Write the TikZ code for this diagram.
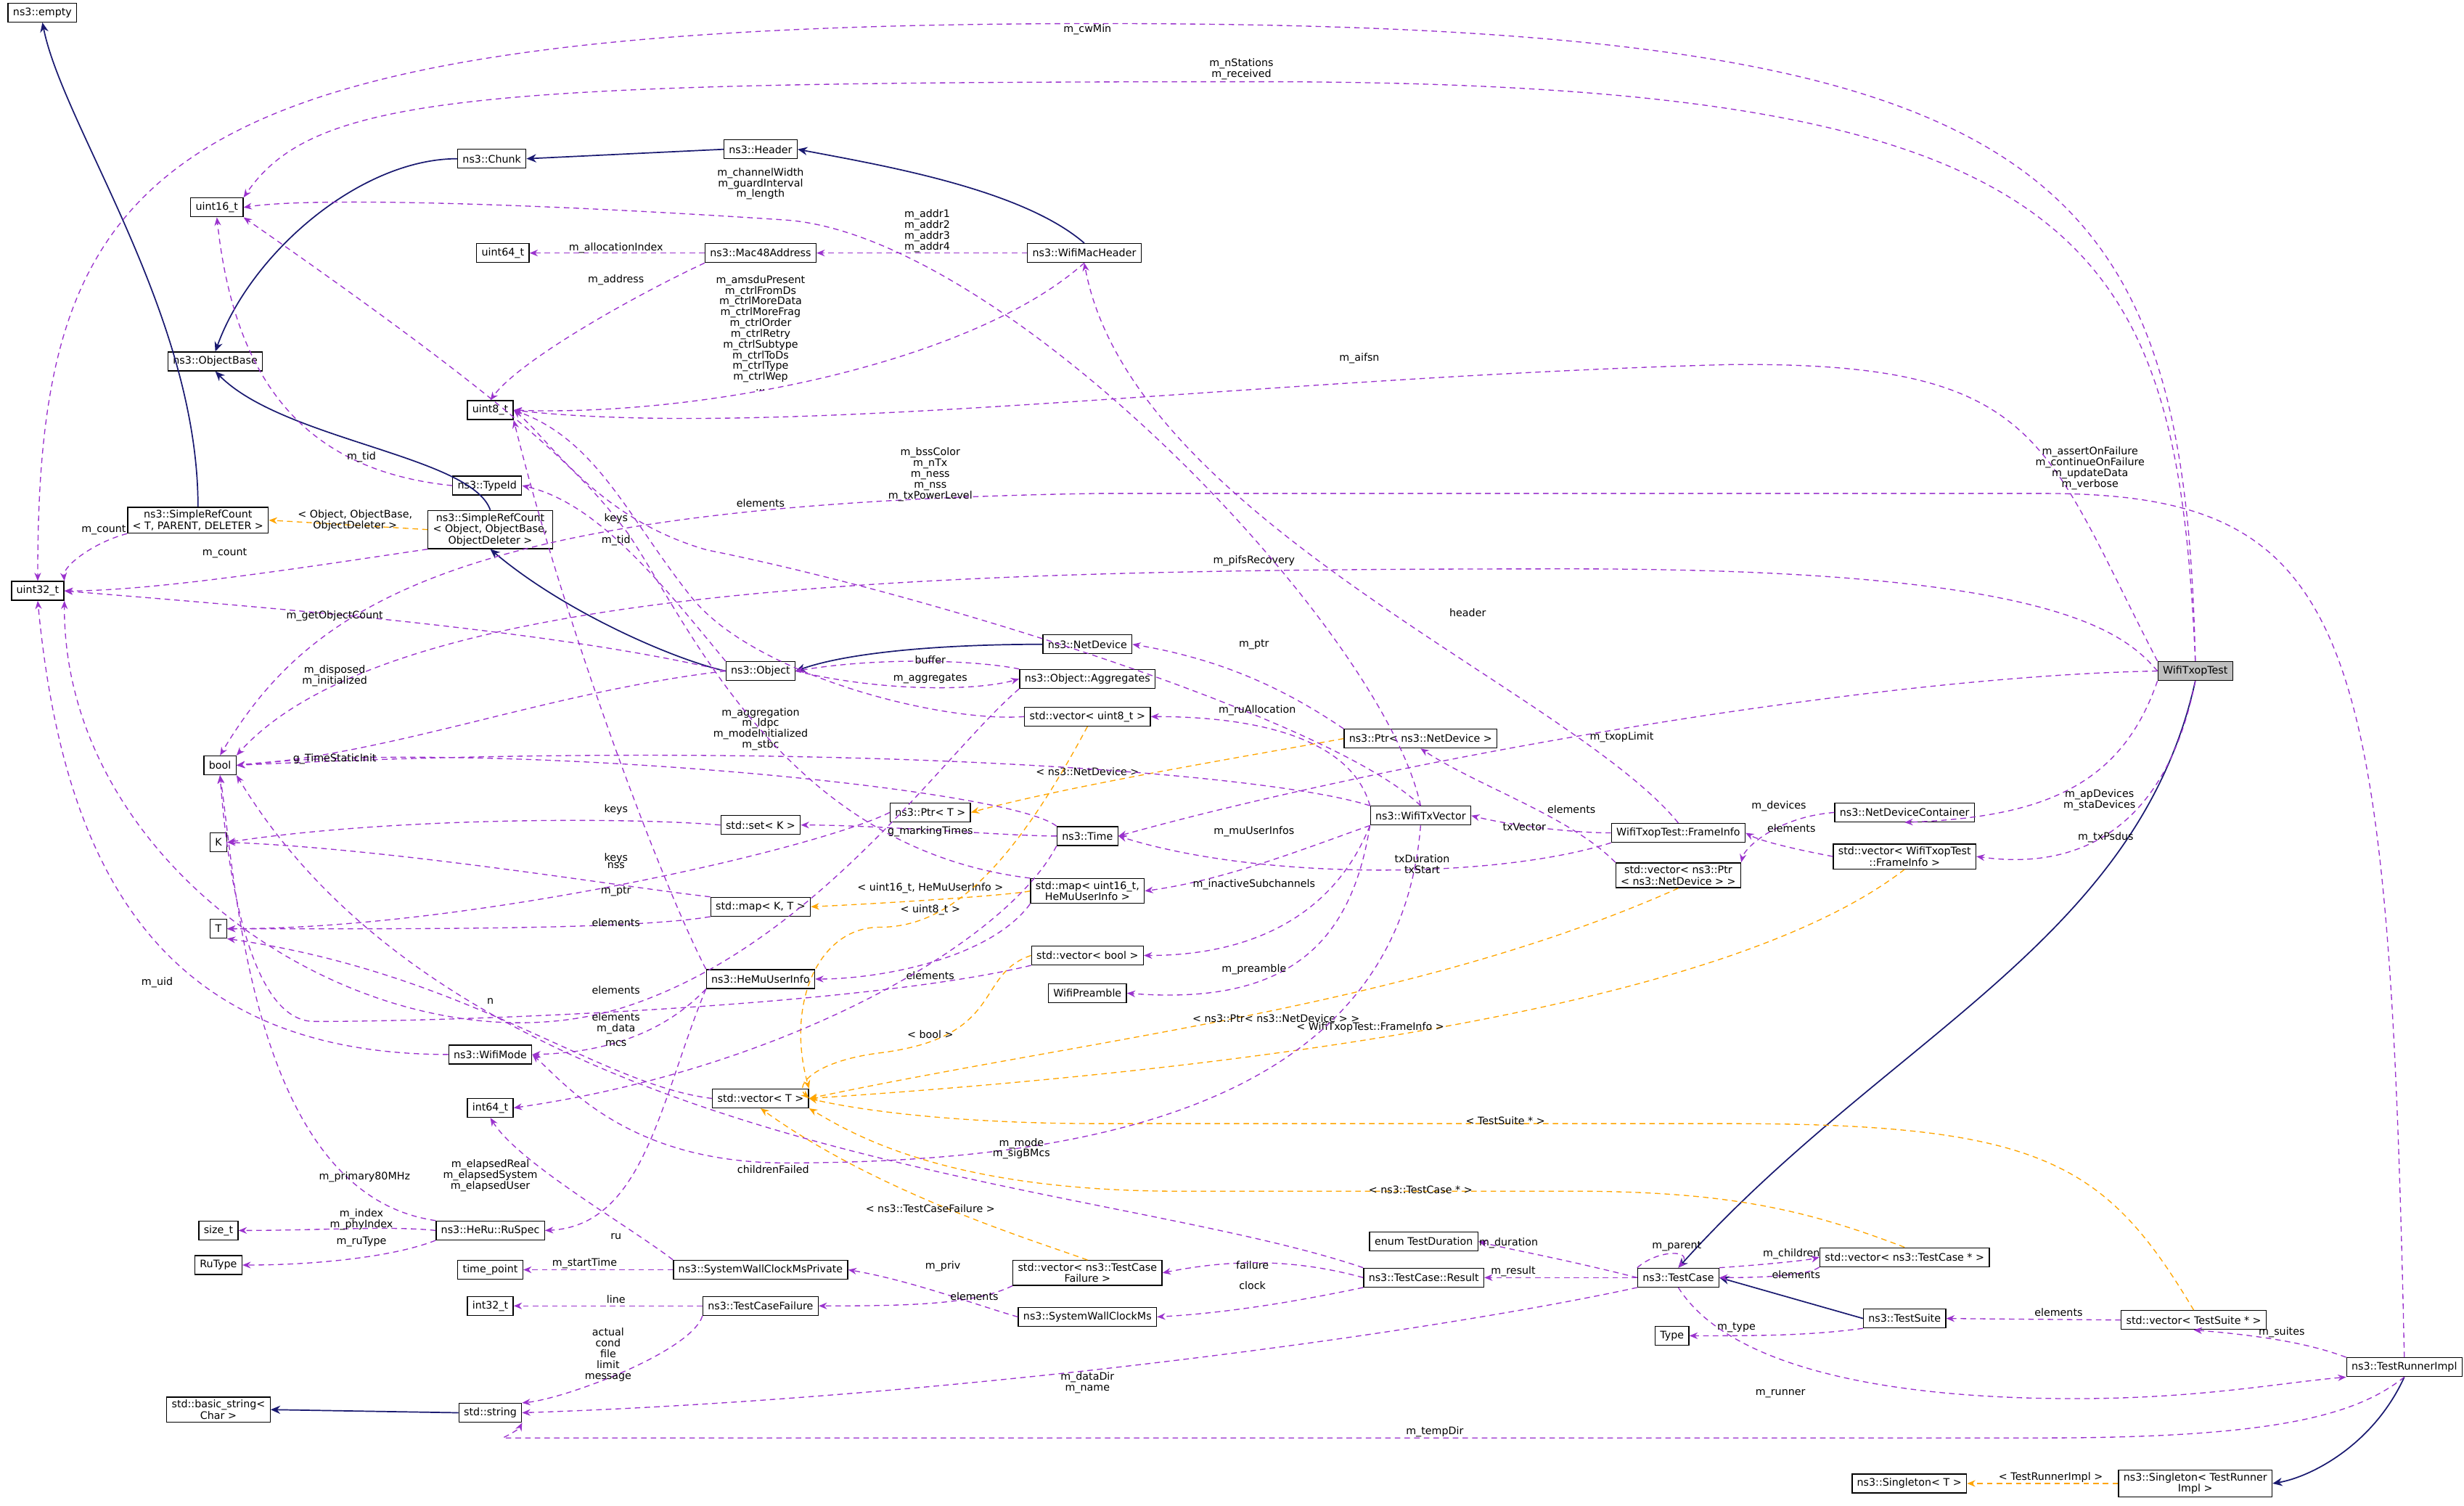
\documentclass[tikz,border=0pt]{standalone}
\usepackage{fontspec}
\setmainfont{DejaVu Sans}
\usetikzlibrary{arrows.meta}
\definecolor{usecol}{HTML}{9A32CD}
\definecolor{tplcol}{HTML}{FFA500}
\definecolor{inhcol}{HTML}{191970}
\tikzset{
  cls/.style={draw, fill=white, font=\fontsize{3.75}{4.1}\selectfont, inner xsep=1.8pt, inner ysep=1pt, minimum height=0.24cm, align=center, line width=0.35pt},
  lbl/.style={font=\fontsize{3.75}{3.9}\selectfont, align=center, inner sep=0.5pt},
  use/.style={draw=usecol, dashed, dash pattern=on 2pt off 1.5pt, line width=0.35pt, -{Stealth[length=3pt,width=2.4pt]}},
  tpl/.style={draw=tplcol, dashed, dash pattern=on 2pt off 1.5pt, line width=0.35pt, -{Stealth[length=3pt,width=2.4pt]}},
  inh/.style={draw=inhcol, line width=0.45pt, -{Stealth[length=3.5pt,width=3pt]}}
}
\begin{document}
\begin{tikzpicture}[x=0.02cm, y=-0.02cm]
\useasboundingbox (0,0) rectangle (1568,958);
% classes, left column
\node[cls] (empty) at (27,8) {ns3::empty};
\node[cls] (uintsixteen) at (138,132) {uint16\_t};
\node[cls] (objbase) at (137,230) {ns3::ObjectBase};
\node[cls] (srct) at (126,331) {ns3::SimpleRefCount\\< T, PARENT, DELETER >};
\node[cls] (uintthirtytwo) at (24,376) {uint32\_t};
\node[cls] (bool) at (140,487) {bool};
\node[cls] (K) at (139,536) {K};
\node[cls] (T) at (139,591) {T};
\node[cls] (sizet) at (139,783) {size\_t};
\node[cls] (rutype) at (139,805) {RuType};
\node[cls] (basicstr) at (139,897) {std::basic\_string<\\Char >};
% second column
\node[cls] (chunk) at (313,101) {ns3::Chunk};
\node[cls] (uintsixtyfour) at (320,161) {uint64\_t};
\node[cls] (uinteight) at (312,261) {uint8\_t};
\node[cls] (typeid) at (310,309) {ns3::TypeId};
\node[cls] (srcobj) at (312,337) {ns3::SimpleRefCount\\< Object, ObjectBase,\\ ObjectDeleter >};
\node[cls] (wifimode) at (312,671) {ns3::WifiMode};
\node[cls] (intsixtyfour) at (312,705) {int64\_t};
\node[cls] (ruspec) at (312,783) {ns3::HeRu::RuSpec};
\node[cls] (timepoint) at (312,808) {time\_point};
\node[cls] (intthirtytwo) at (312,831) {int32\_t};
\node[cls] (string) at (312,899) {std::string};
% third column
\node[cls] (header) at (484,95) {ns3::Header};
\node[cls] (macaddr) at (484,161) {ns3::Mac48Address};
\node[cls] (object) at (484,427) {ns3::Object};
\node[cls] (setk) at (484,525) {std::set< K >};
\node[cls] (mapkt) at (484,577) {std::map< K, T >};
\node[cls] (hemu) at (484,623) {ns3::HeMuUserInfo};
\node[cls] (vect) at (484,699) {std::vector< T >};
\node[cls] (swcpriv) at (484,808) {ns3::SystemWallClockMsPrivate};
\node[cls] (failure) at (484,831) {ns3::TestCaseFailure};
\node[cls] (ptrt) at (592,517) {ns3::Ptr< T >};
% fourth column
\node[cls] (machdr) at (690,161) {ns3::WifiMacHeader};
\node[cls] (netdev) at (692,410) {ns3::NetDevice};
\node[cls] (aggr) at (692,432) {ns3::Object::Aggregates};
\node[cls] (vecuint8) at (692,456) {std::vector< uint8\_t >};
\node[cls] (time) at (692,532) {ns3::Time};
\node[cls] (mapmu) at (692,567) {std::map< uint16\_t,\\HeMuUserInfo >};
\node[cls] (vecbool) at (692,608) {std::vector< bool >};
\node[cls] (preamble) at (692,632) {WifiPreamble};
\node[cls] (vecfail) at (692,810) {std::vector< ns3::TestCase\\Failure >};
\node[cls] (swc) at (692,838) {ns3::SystemWallClockMs};
% fifth column
\node[cls] (ptrnetdev) at (904,470) {ns3::Ptr< ns3::NetDevice >};
\node[cls] (txvector) at (904,519) {ns3::WifiTxVector};
\node[cls] (testdur) at (906,790) {enum TestDuration};
\node[cls] (result) at (906,813) {ns3::TestCase::Result};
\node[cls] (frameinfo) at (1068,530) {WifiTxopTest::FrameInfo};
\node[cls] (vecptrnd) at (1068,557) {std::vector< ns3::Ptr\\< ns3::NetDevice > >};
\node[cls] (testcase) at (1068,813) {ns3::TestCase};
\node[cls] (type) at (1064,850) {Type};
% right columns
\node[cls] (devcont) at (1212,517) {ns3::NetDeviceContainer};
\node[cls] (vecframe) at (1212,545) {std::vector< WifiTxopTest\\::FrameInfo >};
\node[cls] (vectc) at (1212,800) {std::vector< ns3::TestCase * >};
\node[cls] (testsuite) at (1212,839) {ns3::TestSuite};
\node[cls] (singt) at (1215,944) {ns3::Singleton< T >};
\node[cls, fill=black!25] (txoptest) at (1397,427) {WifiTxopTest};
\node[cls] (vects) at (1396,840) {std::vector< TestSuite * >};
\node[cls] (singrunner) at (1397,944) {ns3::Singleton< TestRunner\\Impl >};
\node[cls] (runner) at (1530,870) {ns3::TestRunnerImpl};

% inheritance
\draw[inh] (srct.north) .. controls (126,200) and (40,80) .. (empty.south);
\draw[inh] (chunk.west) .. controls (230,101) and (160,160) .. (objbase.north);
\draw[inh] (header.west) -- (chunk.east);
\draw[inh] (machdr.north) .. controls (650,120) and (560,105) .. (header.east);
\draw[inh] (srcobj.north) .. controls (300,290) and (180,280) .. (objbase.south);
\draw[inh] (object.west) .. controls (430,420) and (360,390) .. (srcobj.south);
\draw[inh] (netdev.west) .. controls (600,410) and (540,415) .. (object.east);
\draw[inh] (txoptest.south) .. controls (1360,600) and (1200,660) .. (testcase.north);
\draw[inh] (testsuite.west) -- (testcase.east);
\draw[inh] (runner.south) .. controls (1510,920) and (1470,940) .. (singrunner.east);
\draw[inh] (string.west) -- (basicstr.east);

% templates
\draw[tpl] (srcobj.west) -- (srct.east);
\node[lbl] (l1) at (226,331) {< Object, ObjectBase,\\ObjectDeleter >};
\draw[tpl] (ptrnetdev.west) .. controls (800,480) and (680,500) .. (ptrt.east);
\node[lbl] (l2) at (692,491) {< ns3::NetDevice >};
\draw[tpl] (mapmu.west) .. controls (640,570) and (560,575) .. (mapkt.east);
\node[lbl] (l3) at (592,565) {< uint16\_t, HeMuUserInfo >};
\draw[tpl] (vecuint8.south) .. controls (640,560) and (600,590) .. (560,590) .. controls (520,590) and (500,640) .. (vect.north east);
\node[lbl] (l4) at (592,579) {< uint8\_t >};
\draw[tpl] (vecbool.west) .. controls (620,620) and (640,660) .. (560,670) .. controls (520,675) and (505,690) .. (vect.east);
\node[lbl] (l5) at (592,658) {< bool >};
\draw[tpl] (vecptrnd.south) .. controls (900,640) and (700,660) .. (vect.east);
\node[lbl] (l6) at (812,648) {< ns3::Ptr< ns3::NetDevice > >};
\draw[tpl] (vecframe.south) .. controls (1100,640) and (800,680) .. (vect.east);
\node[lbl] (l7) at (872,654) {< WifiTxopTest::FrameInfo >};
\draw[tpl] (vects.north) .. controls (1340,740) and (1300,715) .. (1100,715) -- (700,715) .. controls (600,715) and (540,705) .. (vect.east);
\node[lbl] (l8) at (958,713) {< TestSuite * >};
\draw[tpl] (vectc.north) .. controls (1150,770) and (1100,758) .. (1000,758) -- (750,758) .. controls (600,758) and (540,720) .. (vect.south east);
\node[lbl] (l9) at (904,757) {< ns3::TestCase * >};
\draw[tpl] (vecfail.north) .. controls (660,790) and (560,760) .. (vect.south);
\node[lbl] (l10) at (592,769) {< ns3::TestCaseFailure >};
\draw[tpl] (singrunner.west) -- (singt.east);
\node[lbl] (l11) at (1305,940) {< TestRunnerImpl >};

% usage, WifiTxopTest
\draw[use] (txoptest.north) .. controls (1390,100) and (1300,15) .. (700,15) .. controls (100,15) and (24,100) .. (uintthirtytwo.north);
\node[lbl] (l12) at (692,19) {m\_cwMin};
\draw[use] (txoptest.north) .. controls (1385,150) and (1330,52) .. (800,52) .. controls (300,52) and (200,60) .. (uintsixteen.north east);
\node[lbl] (l13) at (790,44) {m\_nStations\\m\_received};
\draw[use] (txoptest.north west) .. controls (1300,280) and (1300,230) .. (1100,232) .. controls (800,240) and (500,280) .. (uinteight.east);
\node[lbl] (l14) at (865,228) {m\_aifsn};
\draw[use] (txoptest.west) .. controls (1350,400) and (1300,362) .. (1000,362) .. controls (600,362) and (250,370) .. (bool.north east);
\node[lbl] (l15) at (798,357) {m\_pifsRecovery};
\draw[use] (txoptest.west) .. controls (1200,430) and (900,480) .. (time.east);
\node[lbl] (l16) at (1032,469) {m\_txopLimit};
\draw[use] (txoptest.south west) .. controls (1350,500) and (1300,520) .. (devcont.south);
\node[lbl] (l17) at (1336,509) {m\_apDevices\\m\_staDevices};
\draw[use] (txoptest.south) .. controls (1380,520) and (1330,555) .. (vecframe.east);
\node[lbl] (l18) at (1340,533) {m\_txPsdus};

% usage, test framework
\draw[use] (runner.north) .. controls (1520,400) and (1500,314) .. (1300,314) -- (700,314) .. controls (300,320) and (200,380) .. (bool.north);
\node[lbl] (l19) at (1330,298) {m\_assertOnFailure\\m\_continueOnFailure\\m\_updateData\\m\_verbose};
\draw[use] (runner.north west) .. controls (1470,855) and (1440,850) .. (vects.south);
\node[lbl] (l20) at (1452,848) {m\_suites};
\draw[use] (testcase.south) .. controls (1100,870) and (1200,890) .. (1320,890) .. controls (1400,890) and (1450,880) .. (runner.south west);
\node[lbl] (l21) at (1133,887) {m\_runner};
\draw[use] (runner.south) .. controls (1500,900) and (1450,915) .. (1300,915) -- (320,915) .. controls (320,915) and (330,910) .. (string.south east);
\node[lbl] (l22) at (913,911) {m\_tempDir};
\draw[use] (testcase.west) .. controls (990,800) and (960,795) .. (testdur.east);
\node[lbl] (l23) at (960,791) {m\_duration};
\draw[use] (testcase.west) -- (result.east);
\node[lbl] (l24) at (963,809) {m\_result};
\draw[use] (testcase.north west) .. controls (1055,795) and (1078,795) .. (testcase.north);
\node[lbl] (l25) at (1067,793) {m\_parent};
\draw[use] (testcase.north east) .. controls (1120,805) and (1150,802) .. (vectc.west);
\node[lbl] (l26) at (1140,798) {m\_children};
\draw[use] (vectc.south west) .. controls (1150,812) and (1120,813) .. (testcase.east);
\node[lbl] (l27) at (1143,811) {elements};
\draw[use] (testcase.south west) .. controls (900,850) and (600,890) .. (string.east);
\node[lbl] (l28) at (692,880) {m\_dataDir\\m\_name};
\draw[use] (testsuite.south west) .. controls (1150,850) and (1120,850) .. (type.east);
\node[lbl] (l29) at (1105,845) {m\_type};
\draw[use] (vects.west) -- (testsuite.east);
\node[lbl] (l30) at (1310,835) {elements};
\draw[use] (result.west) .. controls (820,800) and (780,802) .. (vecfail.east);
\node[lbl] (l31) at (797,805) {failure};
\draw[use] (result.south west) .. controls (840,825) and (790,835) .. (swc.east);
\node[lbl] (l32) at (797,818) {clock};
\draw[use] (result.north west) .. controls (700,750) and (300,740) .. (bool.south east);
\node[lbl] (l33) at (492,744) {childrenFailed};
\draw[use] (swc.west) .. controls (620,830) and (580,815) .. (swcpriv.east);
\node[lbl] (l34) at (600,806) {m\_priv};
\draw[use] (swcpriv.west) -- (timepoint.east);
\node[lbl] (l35) at (372,804) {m\_startTime};
\draw[use] (swcpriv.north west) .. controls (400,780) and (330,740) .. (intsixtyfour.south);
\node[lbl] (l36) at (312,748) {m\_elapsedReal\\m\_elapsedSystem\\m\_elapsedUser};
\draw[use] (vecfail.south west) .. controls (620,830) and (580,831) .. (failure.east);
\node[lbl] (l37) at (620,825) {elements};
\draw[use] (failure.west) -- (intthirtytwo.east);
\node[lbl] (l38) at (392,827) {line};
\draw[use] (failure.south west) .. controls (440,860) and (360,890) .. (string.north east);
\node[lbl] (l39) at (387,862) {actual\\cond\\file\\limit\\message};

% usage, wifi classes
\draw[use] (ruspec.west) .. controls (250,780) and (200,783) .. (sizet.east);
\node[lbl] (l40) at (230,776) {m\_index\\m\_phyIndex};
\draw[use] (ruspec.south west) .. controls (250,800) and (200,805) .. (rutype.east);
\node[lbl] (l41) at (230,790) {m\_ruType};
\draw[use] (ruspec.north west) .. controls (160,760) and (150,560) .. (bool.south);
\node[lbl] (l42) at (232,749) {m\_primary80MHz};
\draw[use] (hemu.south west) .. controls (420,700) and (410,780) .. (ruspec.east);
\node[lbl] (l43) at (392,787) {ru};
\draw[use] (hemu.south west) .. controls (420,660) and (380,670) .. (wifimode.east);
\node[lbl] (l44) at (392,664) {mcs};
\draw[use] (hemu.north west) .. controls (420,560) and (360,400) .. (uinteight.south east);
\node[lbl] (l45) at (392,551) {nss};
\draw[use] (wifimode.west) .. controls (100,671) and (40,550) .. (uintthirtytwo.south);
\node[lbl] (l46) at (100,625) {m\_uid};
\draw[use] (txvector.south) .. controls (890,700) and (700,740) .. (500,740) .. controls (400,740) and (360,690) .. (wifimode.east);
\node[lbl] (l47) at (650,731) {m\_mode\\m\_sigBMcs};
\draw[use] (txvector.north west) .. controls (800,490) and (500,470) .. (bool.east);
\node[lbl] (l48) at (484,464) {m\_aggregation\\m\_ldpc\\m\_modeInitialized\\m\_stbc};
\draw[use] (txvector.north) .. controls (850,460) and (600,380) .. (450,350) .. controls (380,330) and (350,280) .. (uinteight.east);
\node[lbl] (l49) at (592,302) {m\_bssColor\\m\_nTx\\m\_ness\\m\_nss\\m\_txPowerLevel};
\draw[use] (txvector.north) .. controls (880,400) and (640,150) .. (500,140) .. controls (350,130) and (200,125) .. (uintsixteen.east);
\node[lbl] (l50) at (484,117) {m\_channelWidth\\m\_guardInterval\\m\_length};
\draw[use] (txvector.north west) .. controls (860,470) and (800,456) .. (vecuint8.east);
\node[lbl] (l51) at (800,452) {m\_ruAllocation};
\draw[use] (txvector.south west) .. controls (830,540) and (780,560) .. (mapmu.east);
\node[lbl] (l52) at (798,529) {m\_muUserInfos};
\draw[use] (txvector.south west) .. controls (850,580) and (800,608) .. (vecbool.east);
\node[lbl] (l53) at (798,563) {m\_inactiveSubchannels};
\draw[use] (txvector.south west) .. controls (860,600) and (820,640) .. (preamble.east);
\node[lbl] (l54) at (798,617) {m\_preamble};
\draw[use] (frameinfo.west) .. controls (1000,530) and (960,525) .. (txvector.east);
\node[lbl] (l55) at (970,526) {txVector};
\draw[use] (frameinfo.south west) .. controls (950,560) and (800,560) .. (time.east);
\node[lbl] (l56) at (905,550) {txDuration\\txStart};
\draw[use] (frameinfo.north) .. controls (1000,440) and (720,330) .. (machdr.south);
\node[lbl] (l57) at (934,390) {header};
\draw[use] (vecptrnd.north west) .. controls (1000,520) and (940,500) .. (ptrnetdev.south);
\node[lbl] (l58) at (1000,515) {elements};
\draw[use] (devcont.west) .. controls (1130,520) and (1110,540) .. (vecptrnd.north east);
\node[lbl] (l59) at (1132,513) {m\_devices};
\draw[use] (vecframe.west) .. controls (1140,540) and (1120,535) .. (frameinfo.east);
\node[lbl] (l60) at (1140,527) {elements};
\draw[use] (ptrnetdev.north west) .. controls (820,440) and (780,420) .. (netdev.east);
\node[lbl] (l61) at (798,410) {m\_ptr};
\draw[use] (machdr.west) -- (macaddr.east);
\node[lbl] (l62) at (590,147) {m\_addr1\\m\_addr2\\m\_addr3\\m\_addr4};
\draw[use] (machdr.south) .. controls (620,230) and (450,265) .. (uinteight.east);
\node[lbl] (l63) at (484,212) {m\_amsduPresent\\m\_ctrlFromDs\\m\_ctrlMoreData\\m\_ctrlMoreFrag\\m\_ctrlOrder\\m\_ctrlRetry\\m\_ctrlSubtype\\m\_ctrlToDs\\m\_ctrlType\\m\_ctrlWep\\...};
\draw[use] (macaddr.west) -- (uintsixtyfour.east);
\node[lbl] (l64) at (392,158) {m\_allocationIndex};
\draw[use] (macaddr.south west) .. controls (400,190) and (330,230) .. (uinteight.north);
\node[lbl] (l65) at (392,178) {m\_address};
\draw[use] (typeid.west) .. controls (200,300) and (150,250) .. (uintsixteen.south);
\node[lbl] (l66) at (230,291) {m\_tid};
\draw[use] (srct.south west) .. controls (60,345) and (40,360) .. (uintthirtytwo.north east);
\node[lbl] (l67) at (66,337) {m\_count};
\draw[use] (srcobj.south west) .. controls (200,360) and (100,376) .. (uintthirtytwo.east);
\node[lbl] (l68) at (143,352) {m\_count};
\draw[use] (object.west) .. controls (350,400) and (150,385) .. (uintthirtytwo.east);
\node[lbl] (l69) at (213,392) {m\_getObjectCount};
\draw[use] (object.west) .. controls (350,440) and (250,480) .. (bool.east);
\node[lbl] (l70) at (213,430) {m\_disposed\\m\_initialized};
\draw[use] (object.north west) .. controls (420,370) and (380,320) .. (typeid.east);
\node[lbl] (l71) at (392,344) {m\_tid};
\draw[use] (object.east) .. controls (560,440) and (620,440) .. (aggr.west);
\node[lbl] (l72) at (592,432) {m\_aggregates};
\draw[use] (aggr.north west) .. controls (620,420) and (560,418) .. (object.east);
\node[lbl] (l73) at (592,420) {buffer};
\draw[use] (aggr.south west) .. controls (600,480) and (520,600) .. (400,640) .. controls (250,690) and (40,560) .. (uintthirtytwo.south east);
\node[lbl] (l74) at (312,637) {n};
\draw[use] (vecuint8.west) .. controls (600,460) and (480,430) .. (440,380) .. controls (400,330) and (380,280) .. (uinteight.east);
\node[lbl] (l75) at (484,320) {elements};
\draw[use] (mapmu.north west) .. controls (500,540) and (440,400) .. (400,340) .. controls (370,300) and (330,260) .. (uintsixteen.south east);
\node[lbl] (l76) at (392,330) {keys};
\draw[use] (mapmu.south west) .. controls (630,610) and (560,623) .. (hemu.east);
\node[lbl] (l77) at (592,621) {elements};
\draw[use] (vecbool.south west) .. controls (550,640) and (300,650) .. (200,650) .. controls (160,650) and (145,560) .. (bool.south);
\node[lbl] (l78) at (392,647) {elements};
\draw[use] (time.south west) .. controls (640,600) and (500,680) .. (intsixtyfour.east);
\node[lbl] (l79) at (392,655) {m\_data};
\draw[use] (time.west) .. controls (640,532) and (560,525) .. (setk.east);
\node[lbl] (l80) at (592,529) {g\_markingTimes};
\draw[use] (time.north west) .. controls (640,500) and (300,470) .. (bool.east);
\node[lbl] (l81) at (213,483) {g\_TimeStaticInit};
\draw[use] (ptrt.west) .. controls (520,540) and (300,591) .. (T.east);
\node[lbl] (l82) at (392,567) {m\_ptr};
\draw[use] (setk.west) .. controls (400,520) and (250,520) .. (K.east);
\node[lbl] (l83) at (392,515) {keys};
\draw[use] (mapkt.north west) .. controls (400,565) and (250,540) .. (K.east);
\node[lbl] (l84) at (392,546) {keys};
\draw[use] (mapkt.south west) .. controls (400,592) and (250,591) .. (T.east);
\node[lbl] (l85) at (392,587) {elements};
\draw[use] (vect.west) .. controls (380,690) and (300,620) .. (T.south east);
\node[lbl] (l86) at (392,630) {elements};
\end{tikzpicture}
\end{document}
